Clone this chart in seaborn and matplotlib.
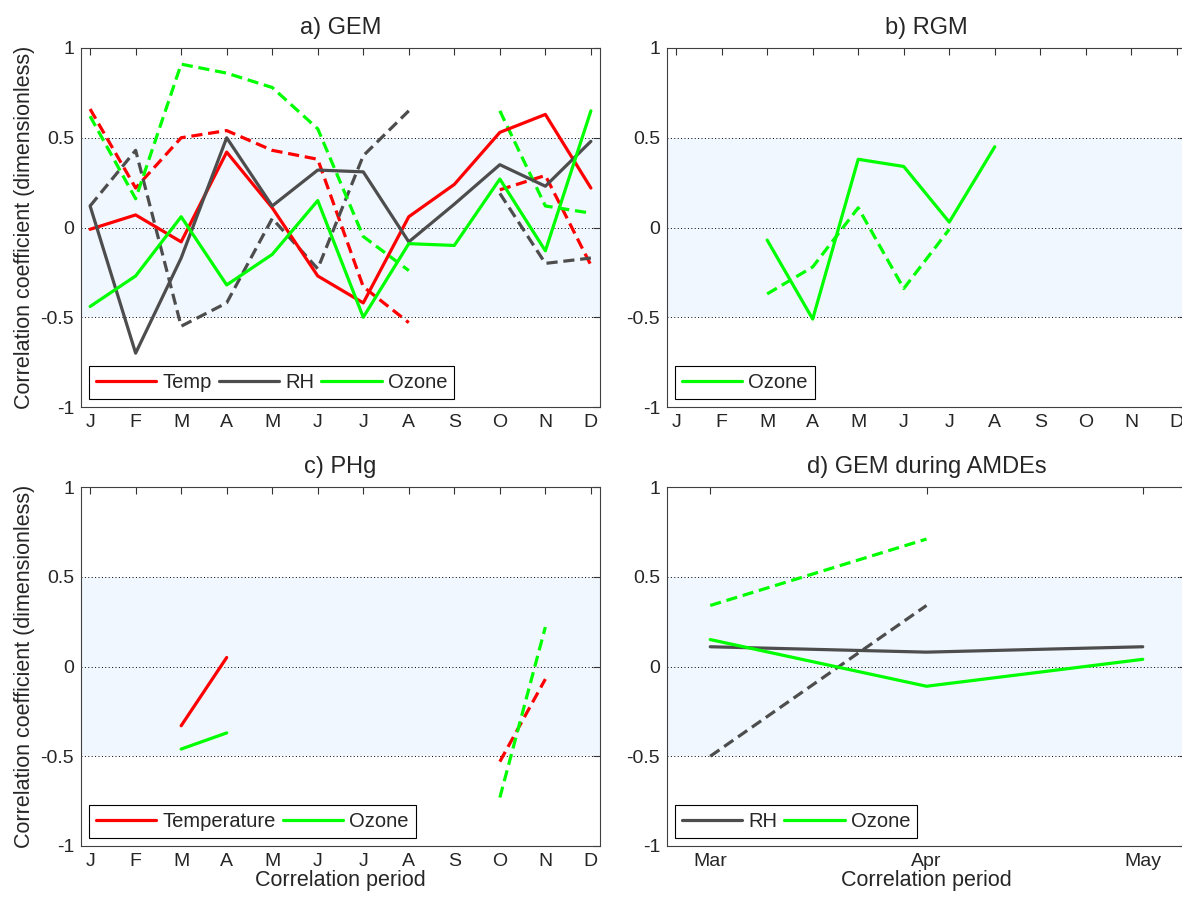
import numpy as np
import pandas as pd
import matplotlib
matplotlib.use("Agg")
import matplotlib.pyplot as plt
import seaborn as sns

nan = np.nan

# Mesi (asse x dei pannelli a-c)
months = ["J", "F", "M", "A", "M", "J", "J", "A", "S", "O", "N", "D"]
amde_months = ["Mar", "Apr", "May"]

# a) GEM
gem_temp = [-0.01, 0.07, -0.08, 0.42, 0.11, -0.27, -0.42, 0.06, 0.24, 0.53, 0.63, 0.22]
gem_temp_d = [0.66, 0.22, 0.50, 0.54, 0.43, 0.38, -0.33, -0.53, nan, 0.21, 0.29, -0.21]
gem_rh = [0.12, -0.70, -0.17, 0.50, 0.12, 0.32, 0.31, -0.08, 0.13, 0.35, 0.23, 0.48]
gem_rh_d = [0.12, 0.43, -0.55, -0.42, 0.05, -0.23, 0.40, 0.65, nan, 0.19, -0.20, -0.17]
gem_oz = [-0.44, -0.27, 0.06, -0.32, -0.15, 0.15, -0.50, -0.09, -0.10, 0.27, -0.13, 0.65]
gem_oz_d = [0.62, 0.16, 0.91, 0.86, 0.78, 0.55, -0.05, -0.24, nan, 0.65, 0.12, 0.08]

# b) RGM
rgm_oz = [nan, nan, -0.07, -0.51, 0.38, 0.34, 0.03, 0.45, nan, nan, nan, nan]
rgm_oz_d = [nan, nan, -0.37, -0.22, 0.11, -0.34, -0.01, nan, nan, nan, nan, nan]

# c) PHg
phg_temp = [nan, nan, -0.33, 0.05, nan, nan, nan, nan, nan, nan, nan, nan]
phg_temp_d = [nan, nan, nan, nan, nan, nan, nan, nan, nan, -0.53, -0.07, nan]
phg_oz = [nan, nan, -0.46, -0.37, nan, nan, nan, nan, nan, nan, nan, nan]
phg_oz_d = [nan, nan, nan, nan, nan, nan, nan, nan, nan, -0.73, 0.22, nan]

# d) GEM durante AMDE
amde_rh = [0.11, 0.08, 0.11]
amde_rh_d = [-0.50, 0.34, nan]
amde_oz = [0.15, -0.11, 0.04]
amde_oz_d = [0.34, 0.71, nan]

RED = "#ff0000"
GRAY = "#4d4d4d"
GREEN = "#00ff00"
BAND = "#f0f7fe"

sns.set_style("white")
plt.rcParams["font.family"] = ["Liberation Sans", "DejaVu Sans"]

fig = plt.figure(figsize=(11.82, 9.01), dpi=100)
W, H = 1182, 901


def make_ax(left, top):
    return fig.add_axes([left / W, (H - top - 359) / H, 519 / W, 359 / H])


def draw(ax, y, color, dashed=False, label=None):
    """Disegna una serie, spezzandola dove ci sono NaN."""
    df = pd.DataFrame({"x": np.arange(1, len(y) + 1), "y": y})
    df["seg"] = df["y"].isna().cumsum()
    df = df.dropna()
    first = True
    for _, part in df.groupby("seg"):
        if len(part) < 2:
            continue
        sns.lineplot(data=part, x="x", y="y", ax=ax, color=color, lw=2.3,
                     linestyle=(0, (3.5, 1.8)) if dashed else "-",
                     label=label if (first and label) else None, legend=False)
        first = False


def style(ax, labels, title, ylabel=False, xlabel=False):
    n = len(labels)
    ax.axhspan(-0.5, 0.5, color=BAND, zorder=0, lw=0)
    for v in (-0.5, 0, 0.5):
        ax.axhline(v, color="black", ls=(0, (1, 2.5)), lw=0.7, zorder=0.5)
    ax.set_xlim(0.8, n + 0.2)
    ax.set_ylim(-1, 1)
    ax.set_xticks(np.arange(1, n + 1))
    ax.set_xticklabels(labels)
    ax.set_yticks([-1, -0.5, 0, 0.5, 1])
    ax.set_yticklabels(["-1", "-0.5", "0", "0.5", "1"])
    ax.tick_params(direction="in", top=True, right=True, length=5, width=0.8,
                   color="#333333", labelsize=14, pad=5)
    for s in ax.spines.values():
        s.set_color("#404040")
        s.set_linewidth(0.8)
    ax.set_title(title, fontsize=17, pad=10)
    ax.set_ylabel("Correlation coefficient (dimensionless)" if ylabel else "",
                  fontsize=15.5, labelpad=4)
    ax.set_xlabel("Correlation period" if xlabel else "", fontsize=15.5, labelpad=0)
    handles, labs = ax.get_legend_handles_labels()
    leg = ax.legend(handles, labs, loc="lower left", ncol=len(labs), fancybox=False,
                    edgecolor="black", framealpha=1, fontsize=14.5, handlelength=3.0,
                    handletextpad=0.3, columnspacing=0.35, borderaxespad=0.38,
                    borderpad=0.35)
    leg.get_frame().set_linewidth(0.8)


ax_a = make_ax(81, 48)
draw(ax_a, gem_temp_d, RED, True)
draw(ax_a, gem_rh_d, GRAY, True)
draw(ax_a, gem_oz_d, GREEN, True)
draw(ax_a, gem_temp, RED, label="Temp")
draw(ax_a, gem_rh, GRAY, label="RH")
draw(ax_a, gem_oz, GREEN, label="Ozone")
style(ax_a, months, "a) GEM", ylabel=True)

ax_b = make_ax(667, 48)
draw(ax_b, rgm_oz_d, GREEN, True)
draw(ax_b, rgm_oz, GREEN, label="Ozone")
style(ax_b, months, "b) RGM")

ax_c = make_ax(81, 487)
draw(ax_c, phg_temp_d, RED, True)
draw(ax_c, phg_oz_d, GREEN, True)
draw(ax_c, phg_temp, RED, label="Temperature")
draw(ax_c, phg_oz, GREEN, label="Ozone")
style(ax_c, months, "c) PHg", ylabel=True, xlabel=True)

ax_d = make_ax(667, 487)
draw(ax_d, amde_rh_d, GRAY, True)
draw(ax_d, amde_oz_d, GREEN, True)
draw(ax_d, amde_rh, GRAY, label="RH")
draw(ax_d, amde_oz, GREEN, label="Ozone")
style(ax_d, amde_months, "d) GEM during AMDEs", xlabel=True)

fig.savefig("out.png", dpi=100)
